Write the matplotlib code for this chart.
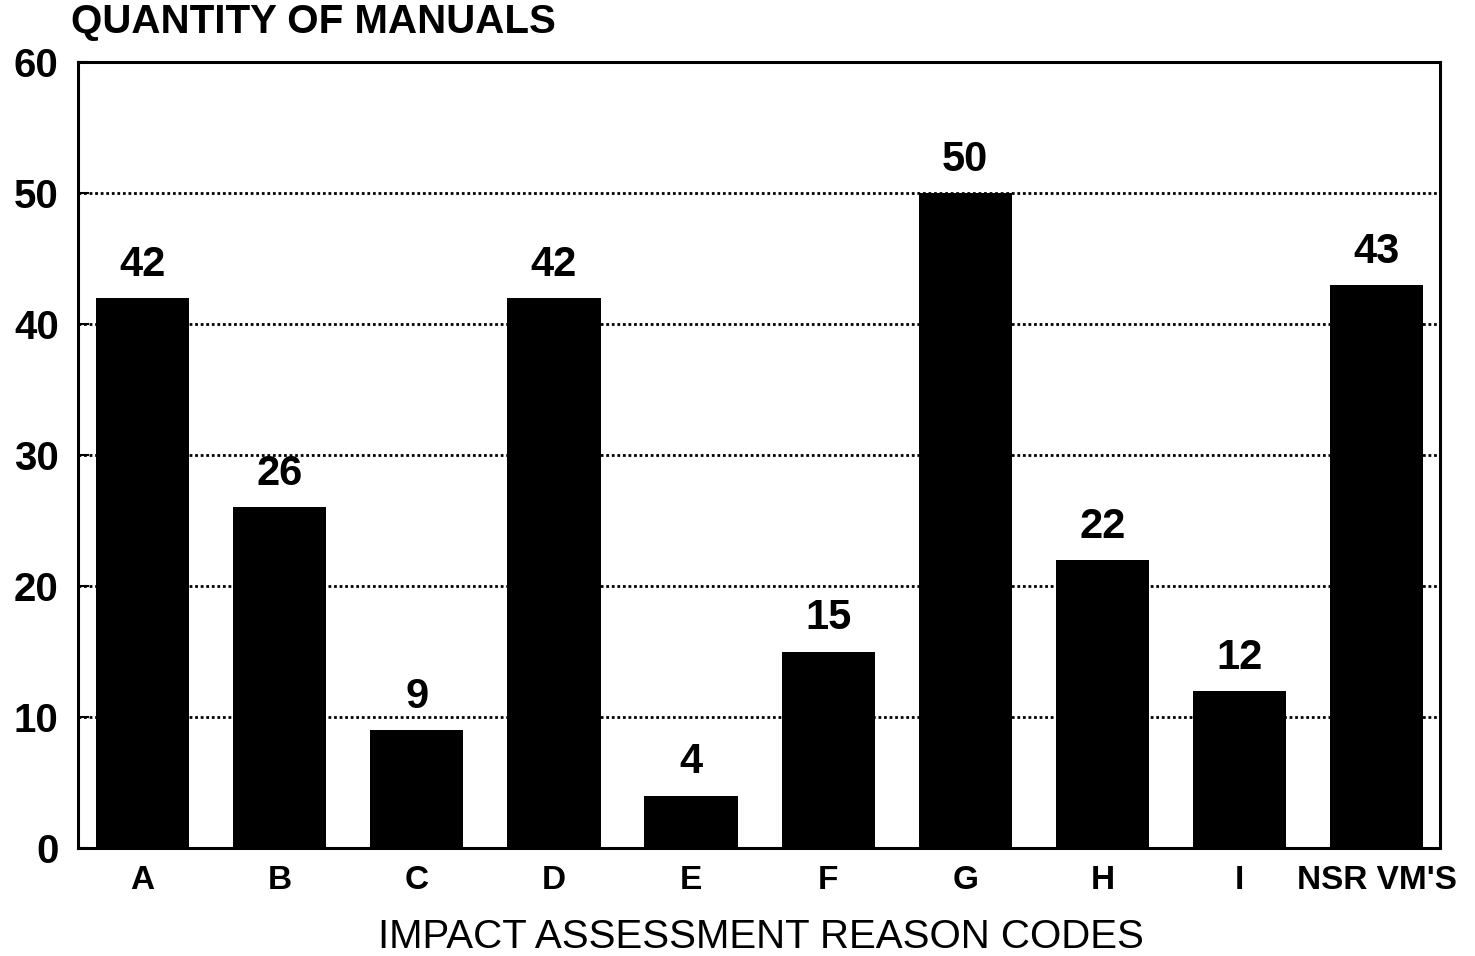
import matplotlib
matplotlib.use('Agg')
import matplotlib.pyplot as plt
import numpy as np

codes = ['A', 'B', 'C', 'D', 'E', 'F', 'G', 'H', 'I', "NSR VM'S"]
manuals = [42, 26, 9, 42, 4, 15, 50, 22, 12, 43]
yticks = [0, 10, 20, 30, 40, 50, 60]

plt.rcParams['font.family'] = ['Liberation Sans', 'DejaVu Sans']

fig = plt.figure(figsize=(14.75, 9.56), dpi=100)
ax = fig.add_axes([0.053, 0.113, 0.923, 0.822])

x = np.arange(len(codes))
bars = ax.bar(x, manuals, width=0.68, color='black', zorder=3)

# value labels on top of each bar
for xi, v in zip(x, manuals):
    ax.text(xi, v + 1.0, str(v), ha='center', va='bottom',
            fontsize=30, fontweight='bold')

ax.set_xlim(-0.47, 9.46)
ax.set_ylim(0, 60)
ax.set_yticks(yticks)
ax.set_xticks(x)
ax.set_xticklabels(codes, fontsize=24, fontweight='bold')
ax.set_yticklabels([str(t) for t in yticks], fontsize=29, fontweight='bold')
ax.tick_params(axis='x', length=0, pad=12)
ax.tick_params(axis='y', direction='in', length=8, width=1.5, pad=14)

# dotted gridlines
for t in yticks[1:-1]:
    ax.axhline(t, color='black', linestyle=(0, (1, 1.0)), linewidth=2, zorder=1)

for s in ax.spines.values():
    s.set_linewidth(2.2)

fig.text(0.048, 0.957, 'QUANTITY OF MANUALS', fontsize=29, fontweight='bold',
         ha='left', va='bottom')
fig.text(0.516, 0.008, 'IMPACT ASSESSMENT REASON CODES', fontsize=29,
         ha='center', va='baseline')

fig.savefig('out.png', dpi=100)
